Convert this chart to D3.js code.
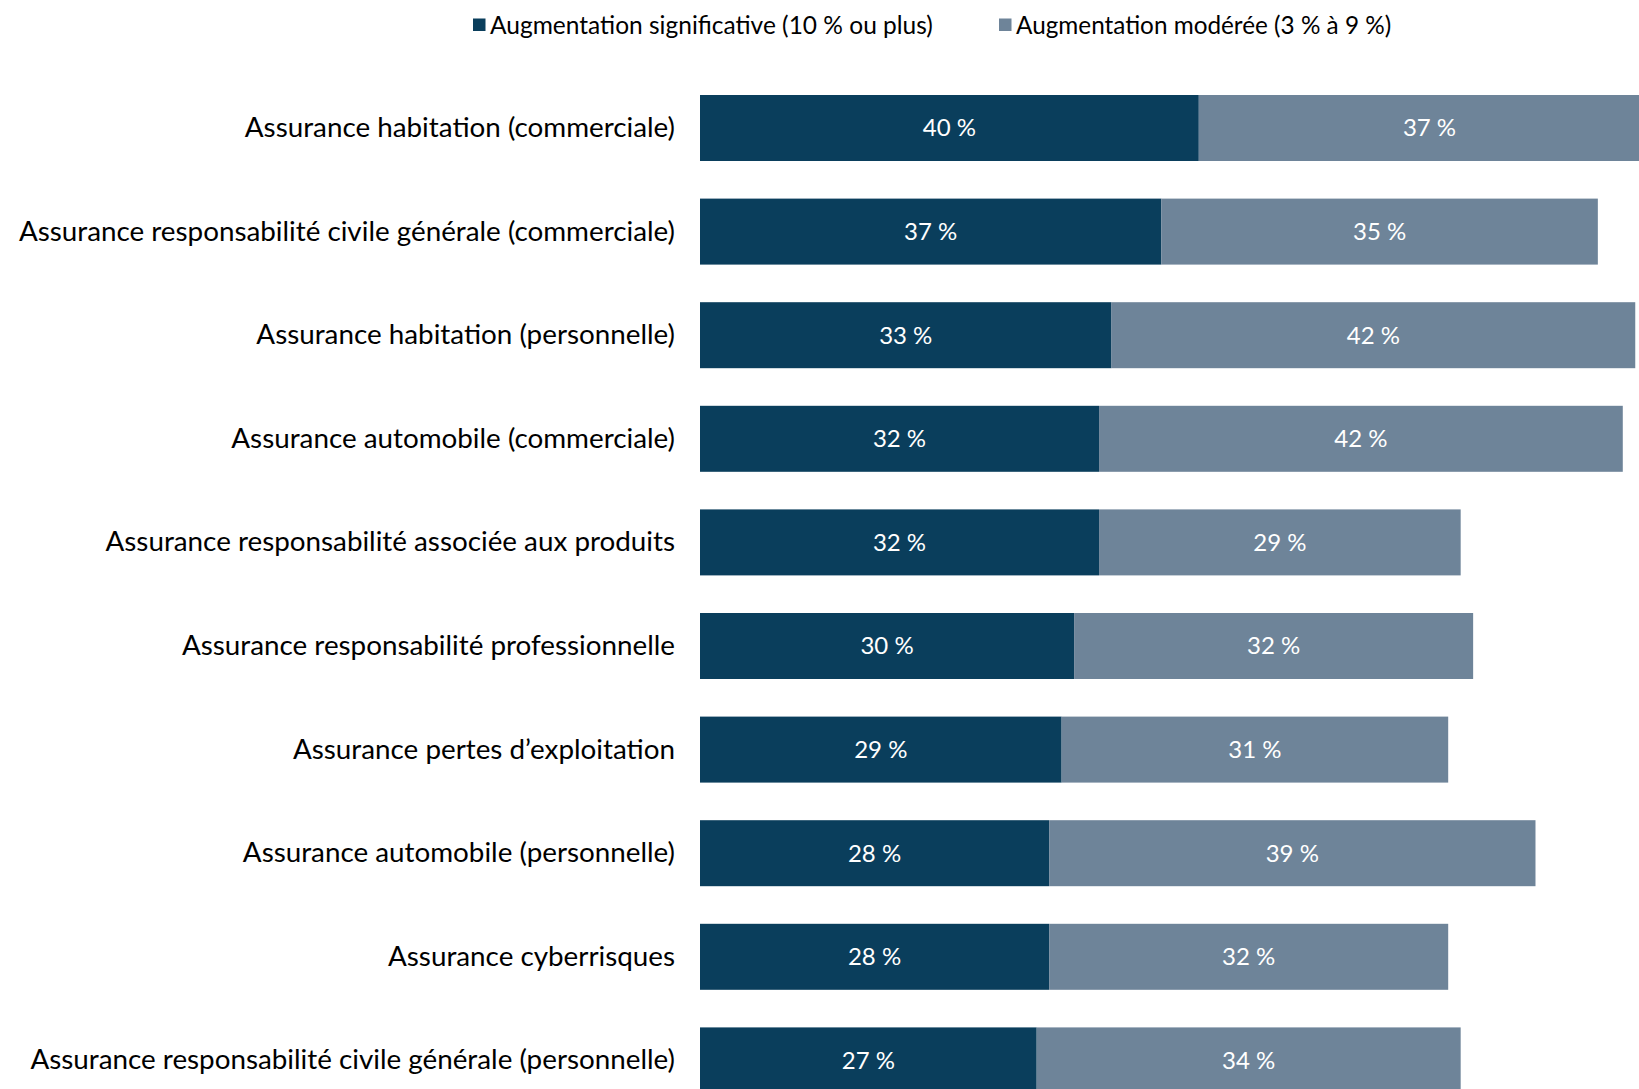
<!DOCTYPE html>
<html>
<head>
<meta charset="utf-8">
<script src="https://cdn.jsdelivr.net/npm/d3@7"></script>
<style>
  body { margin: 0; background: #fff; }
  svg { display: block; font-family: Lato, "Open Sans", sans-serif; }
</style>
</head>
<body>
<svg id="chart" width="1639" height="1089"></svg>
<script>
// categories, top to bottom
var categories = [
  'Assurance habitation (commerciale)',
  'Assurance responsabilité civile générale (commerciale)',
  'Assurance habitation (personnelle)',
  'Assurance automobile (commerciale)',
  'Assurance responsabilité associée aux produits',
  'Assurance responsabilité professionnelle',
  'Assurance pertes d\u2019exploitation',
  'Assurance automobile (personnelle)',
  'Assurance cyberrisques',
  'Assurance responsabilité civile générale (personnelle)'
]
var significative = [40, 37, 33, 32, 32, 30, 29, 28, 28, 27]
var moderee = [37, 35, 42, 42, 29, 32, 31, 39, 32, 34]
var seriesNames = ['Augmentation significative (10 % ou plus)', 'Augmentation modérée (3 % à 9 %)']
var colors = ['#0a3e5c', '#6e8499']

var svg = d3.select('#chart')

var rows = categories.map(function (c, i) {
  return {cat: c, vals: [significative[i], moderee[i]]}
})

// scales
var x = d3.scaleLinear()
    .domain([0, 100])
    .range([700, 1947])

var y = d3.scaleBand()
    .domain(categories)
    .range([76.2, 1112.2])
    .paddingInner(0.363)
    .paddingOuter(0.1815)

var stack = d3.stack().keys([0, 1]).value(function (d, k) { return d.vals[k] })
var layers = stack(rows)

var g = svg.append('g').classed('bars', true)

layers.forEach(function (layer, k) {
  var seg = g.append('g').classed('series s' + k, true)
  seg.selectAll('rect')
      .data(layer)
      .enter()
      .append('rect')
      .attr('x', d => x(d[0]))
      .attr('y', d => y(d.data.cat))
      .attr('width', d => x(d[1]) - x(d[0]))
      .attr('height', y.bandwidth())
      .attr('fill', colors[k])

  seg.selectAll('text')
      .data(layer)
      .enter()
      .append('text')
      .attr('x', d => (x(d[0]) + x(d[1])) / 2)
      .attr('y', d => y(d.data.cat) + y.bandwidth() / 2)
      .attr('dy', '0.35em')
      .attr('text-anchor', 'middle')
      .attr('fill', '#fff')
      .style('font-size', '24px')
      .text(d => d.data.vals[k] + ' %')
})

// category labels
var yAxis = d3.axisLeft(y).tickSize(0).tickPadding(0)
svg.append('g')
    .classed('ax y', true)
    .attr('transform', 'translate(675,0)')
    .call(yAxis)
    .call(a => a.select('.domain').remove())
    .selectAll('text')
    .attr('fill', '#000')
    .style('font-size', '27.8px')
    .style('font-family', 'Lato, "Open Sans", sans-serif')

// legend
var legendX = [473, 999]
var legendSize = ['24.5px', '24.3px']
var legend = svg.append('g').classed('legend', true)
seriesNames.forEach(function (name, k) {
  var item = legend.append('g').attr('transform', `translate(${legendX[k]},25)`)
  item.append('rect')
      .attr('x', 0)
      .attr('y', -6.5)
      .attr('width', 12.5)
      .attr('height', 12.5)
      .attr('fill', colors[k])
  item.append('text')
      .attr('x', 17)
      .attr('dy', '0.35em')
      .attr('fill', '#000')
      .style('font-size', legendSize[k])
      .text(name)
})
</script>
</body>
</html>
